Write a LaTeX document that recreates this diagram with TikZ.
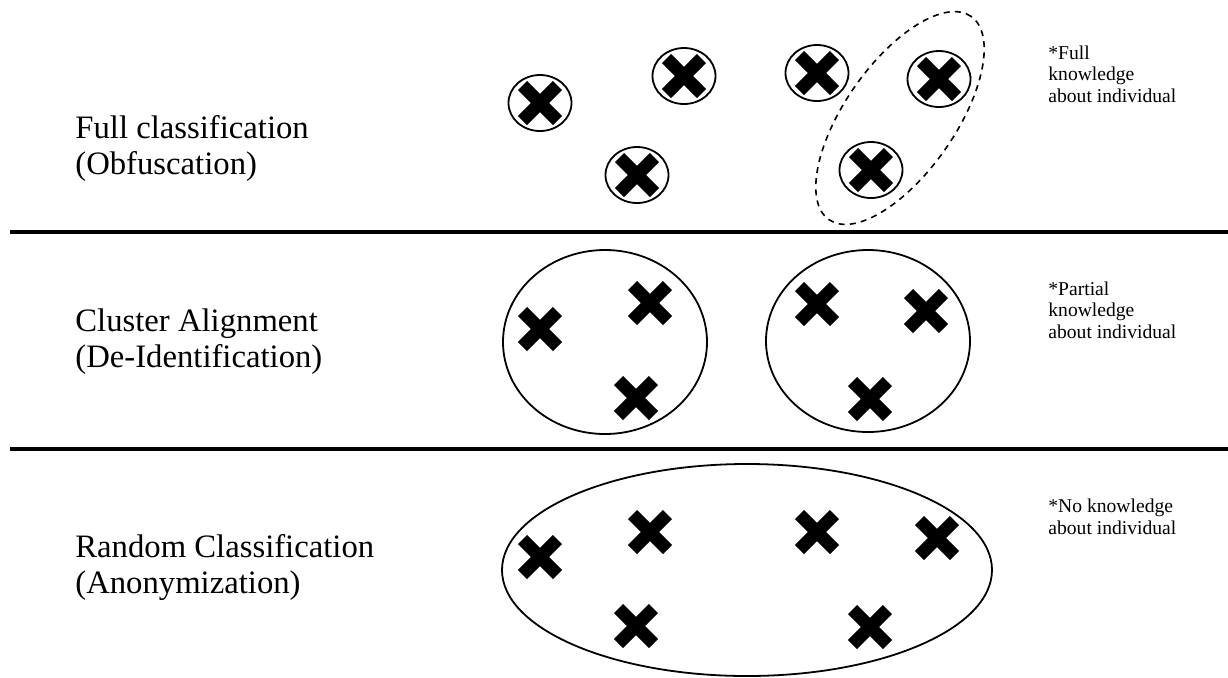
\documentclass[tikz,border=0pt]{standalone}
\usepackage{fontspec}
\setmainfont{Liberation Serif}
\usetikzlibrary{shapes.geometric,shapes.misc}
\begin{document}
\begin{tikzpicture}[x=0.5pt,y=-0.5pt,
  xmark/.style={cross out,draw,line width=6.5pt,minimum size=11pt,inner sep=0pt},
  ring/.style={ellipse,draw,line width=0.9pt,minimum width=31.5pt,minimum height=28pt,inner sep=0pt},
  group/.style={ellipse,draw,line width=0.9pt,inner sep=0pt},
  sepline/.style={line width=1.6pt},
  rowlabel/.style={anchor=base west,align=left,inner sep=0pt,font=\fontsize{16.35pt}{18pt}\selectfont},
  note/.style={anchor=base west,align=left,inner sep=0pt,font=\fontsize{9.8pt}{10.7pt}\selectfont}]
\useasboundingbox (0,0) rectangle (1228,677);

% separators
\coordinate (s1a) at (10,232);
\coordinate (s1b) at (1228,232);
\coordinate (s2a) at (10,449);
\coordinate (s2b) at (1228,449);
\draw[sepline] (s1a) -- (s1b);
\draw[sepline] (s2a) -- (s2b);

% row labels (anchored at the baseline of the last line)
\node[rowlabel] (lab1) at (75,174) {Full classification\\(Obfuscation)};
\node[rowlabel] (lab2) at (75,367) {Cluster Alignment\\(De-Identification)};
\node[rowlabel] (lab3) at (75,593) {Random Classification\\(Anonymization)};

% notes
\node[note] (n1) at (1048,102) {*Full\\knowledge\\about individual};
\node[note] (n2) at (1048,338) {*Partial\\knowledge\\about individual};
\node[note] (n3) at (1048,534) {*No knowledge\\about individual};

% top row
\node[xmark] (a1) at (540,103) {};
\node[xmark] (a2) at (684,76) {};
\node[xmark] (a3) at (817,73) {};
\node[xmark] (a4) at (939,79) {};
\node[xmark] (a5) at (637,175) {};
\node[xmark] (a6) at (871,170) {};
\node[ring] (r1) at (a1) {};
\node[ring] (r2) at (a2) {};
\node[ring] (r3) at (a3) {};
\node[ring] (r4) at (a4) {};
\node[ring] (r5) at (a5) {};
\node[ring] (r6) at (a6) {};
\node[ellipse,draw,dashed,dash pattern=on 3pt off 2.6pt,line width=0.8pt,inner sep=0pt,
      minimum width=124pt,minimum height=55pt,rotate=55] (dz) at (900,118) {};

% middle row
\node[group,minimum width=102pt,minimum height=92pt] (g1) at (605,342) {};
\node[group,minimum width=102pt,minimum height=91pt] (g2) at (868,341) {};
\node[xmark] (b1) at (540,329) {};
\node[xmark] (b2) at (650,303) {};
\node[xmark] (b3) at (636,398) {};
\node[xmark] (b4) at (817,304) {};
\node[xmark] (b5) at (926,311) {};
\node[xmark] (b6) at (870,399) {};

% bottom row
\node[group,minimum width=245pt,minimum height=106pt] (g3) at (747,570) {};
\node[xmark] (c1) at (540,557) {};
\node[xmark] (c2) at (650,532) {};
\node[xmark] (c3) at (817,532) {};
\node[xmark] (c4) at (937,538) {};
\node[xmark] (c5) at (636,626) {};
\node[xmark] (c6) at (870,627) {};
\end{tikzpicture}
\end{document}
